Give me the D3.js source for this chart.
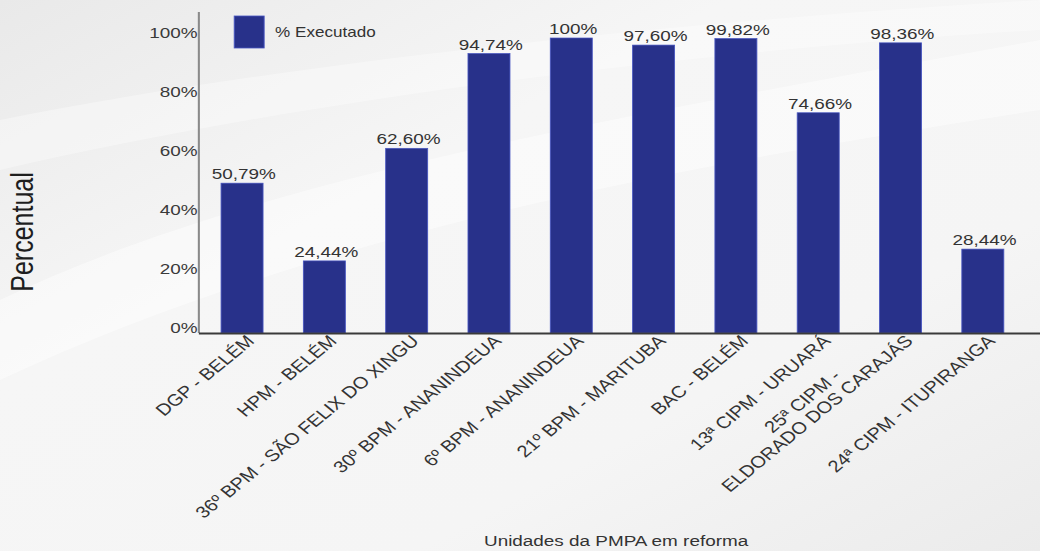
<!DOCTYPE html>
<html><head><meta charset="utf-8">
<script src="https://cdn.jsdelivr.net/npm/d3@7"></script>
<style>
html,body{margin:0;padding:0;background:#f4f4f4;overflow:hidden;}
svg{display:block;}
text{font-family:"Liberation Sans",Arial,Helvetica,sans-serif;}
</style>
</head><body><div id="chart"></div>
<script>
const categories = [
  "DGP - BELÉM",
  "HPM - BELÉM",
  "36º BPM - SÃO FELIX DO XINGU",
  "30º BPM - ANANINDEUA",
  "6º BPM - ANANINDEUA",
  "21º BPM - MARITUBA",
  "BAC - BELÉM",
  "13ª CIPM - URUARÁ",
  "25ª CIPM -\nELDORADO DOS CARAJÁS",
  "24ª CIPM - ITUPIRANGA"
];
const executado = [50.79, 24.44, 62.60, 94.74, 100, 97.60, 99.82, 74.66, 98.36, 28.44];
const yTicks = [0, 20, 40, 60, 80, 100];
const seriesName = "% Executado";
const xTitle = "Unidades da PMPA em reforma";
const yTitle = "Percentual";

const WIDTH = 1040, HEIGHT = 551;
const SX = 1.22;               // horizontal stretch of the original picture
const W = WIDTH / SX;          // inner width

const svg = d3.select("#chart").append("svg")
  .attr("width", WIDTH).attr("height", HEIGHT);

// background
const defs = svg.append("defs");
const bg = defs.append("linearGradient").attr("id","bg")
  .attr("x1","0").attr("y1","0").attr("x2","1").attr("y2","1");
bg.append("stop").attr("offset","0").attr("stop-color","#e9e9e9");
bg.append("stop").attr("offset","0.35").attr("stop-color","#f6f6f6");
bg.append("stop").attr("offset","0.7").attr("stop-color","#f5f5f5");
bg.append("stop").attr("offset","1").attr("stop-color","#ebebeb");
svg.append("rect").attr("width",WIDTH).attr("height",HEIGHT).attr("fill","url(#bg)");
svg.append("path")
  .attr("d","M0,300 C250,180 600,120 1040,40 L1040,110 C650,170 300,240 0,380 Z")
  .attr("fill","#ffffff").attr("opacity",0.45);
svg.append("path")
  .attr("d","M0,120 C300,60 700,20 1040,0 L1040,30 C700,50 300,100 0,170 Z")
  .attr("fill","#ffffff").attr("opacity",0.35);

const g = svg.append("g").attr("transform", `scale(${SX},1)`);

const x = d3.scaleBand().domain(categories)
  .range([164, 840]).paddingInner(0.49).paddingOuter(0.255);
const y = d3.scaleLinear().domain([0, 100]).range([333, 38]);

// y axis line
g.append("line").attr("x1",163).attr("x2",163).attr("y1",12).attr("y2",333)
  .attr("stroke","#8a8a8a").attr("stroke-width",1.7);

// y axis ticks/labels
const yAxis = d3.axisLeft(y).tickValues(yTicks).tickSize(0).tickPadding(1)
  .tickFormat(d => d + "%");
const ya = g.append("g").attr("transform","translate(163,0)").call(yAxis);
ya.select(".domain").remove();
ya.selectAll("text").attr("font-size",15.5).attr("fill","#3a3a3a")
  .attr("font-family",'"Liberation Sans",Arial,sans-serif')
  .attr("dy","-0.05em");

// bars
g.selectAll("rect.bar").data(executado).join("rect")
  .attr("class","bar")
  .attr("x",(d,i)=>x(categories[i]))
  .attr("width",x.bandwidth())
  .attr("y",d=>y(d))
  .attr("height",d=>y(0)-y(d))
  .attr("fill","#28318a")
  .attr("stroke","#4755c0").attr("stroke-width",0.7);

// baseline
g.append("line").attr("x1",163).attr("x2",W+2).attr("y1",333.5).attr("y2",333.5)
  .attr("stroke","#3a3a3a").attr("stroke-width",2);

// value labels
const fmt = v => (v === 100 ? "100" : v.toFixed(2).replace(".", ",")) + "%";
g.selectAll("text.val").data(executado).join("text")
  .attr("class","val")
  .attr("x",(d,i)=>x(categories[i]) + x.bandwidth()/2 + 1.5)
  .attr("y",d=>y(d) - 4)
  .attr("text-anchor","middle")
  .attr("font-size",15.5).attr("fill","#333")
  .text(d=>fmt(d));

// category labels
categories.forEach((c,i)=>{
  const cx = x(c) + x.bandwidth()/2 + 11;
  const t = g.append("text")
    .attr("transform",`translate(${cx},342) rotate(-45)`)
    .attr("text-anchor","end")
    .attr("font-size",16.5).attr("fill","#333");
  const lines = c.split("\n");
  const spans = lines.map(l => t.append("tspan").attr("x",0).text(l));
  const widths = spans.map(s => s.node().getComputedTextLength());
  const maxW = Math.max(...widths);
  spans.forEach((s,k)=>{
    s.attr("x", -(maxW - widths[k]) / 2)
     .attr("y", (k - (lines.length - 1)) * 17);
  });
});

// legend
g.append("rect").attr("x",192).attr("y",16).attr("width",24.5).attr("height",32)
  .attr("fill","#28318a").attr("stroke","#4755c0").attr("stroke-width",0.8);
g.append("text").attr("x",225.5).attr("y",37).attr("font-size",14)
  .attr("fill","#333").text(seriesName);

// axis titles
g.append("text").attr("x",505).attr("y",546).attr("text-anchor","middle")
  .attr("font-size",15.5).attr("fill","#333").text(xTitle);
g.append("text").attr("transform","translate(27,232) rotate(-90)")
  .attr("text-anchor","middle").attr("font-size",25).attr("fill","#1e1e1e")
  .text(yTitle);
</script>
</body></html>
